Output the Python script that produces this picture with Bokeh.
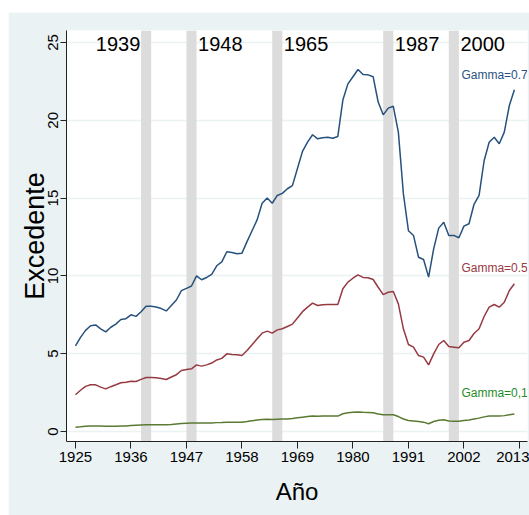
from bokeh.plotting import figure
from bokeh.models import FixedTicker, Label, Range1d, ColumnDataSource
from bokeh.embed import file_html
from bokeh.resources import INLINE

# ---------------- data ----------------
years = list(range(1925, 2013))

gamma_07 = [
    5.5, 6.05, 6.5, 6.8, 6.85, 6.6, 6.4, 6.7, 6.9, 7.2,
    7.25, 7.5, 7.4, 7.7, 8.05, 8.05, 8.0, 7.9, 7.75, 8.1,
    8.45, 9.05, 9.2, 9.35, 10.0, 9.75, 9.9, 10.1, 10.65, 10.9,
    11.55, 11.5, 11.42, 11.46, 12.2, 12.9, 13.6, 14.67, 15.0, 14.67,
    15.17, 15.3, 15.6, 15.8, 16.9, 18.0, 18.6, 19.07, 18.81, 18.88,
    18.91, 18.85, 18.96, 21.3, 22.34, 22.8, 23.26, 22.94, 22.92, 22.8,
    21.17, 20.35, 20.78, 20.9, 19.24, 15.27, 12.9, 12.6, 11.2, 11.05,
    9.92, 11.74, 13.07, 13.45, 12.6, 12.6, 12.45, 13.2, 13.35, 14.6,
    15.17, 17.4, 18.59, 18.91, 18.49, 19.24, 20.95, 21.96,
]
gamma_05 = [
    2.36, 2.65, 2.9, 3.0, 3.0, 2.85, 2.74, 2.88, 3.0, 3.13,
    3.17, 3.23, 3.21, 3.35, 3.47, 3.47, 3.45, 3.4, 3.34, 3.5,
    3.65, 3.92, 3.98, 4.03, 4.28, 4.2, 4.28, 4.4, 4.6, 4.7,
    4.99, 4.95, 4.93, 4.88, 5.2, 5.57, 5.96, 6.32, 6.45, 6.32,
    6.53, 6.6, 6.75, 6.9, 7.3, 7.7, 7.99, 8.25, 8.1, 8.14,
    8.16, 8.16, 8.16, 9.17, 9.6, 9.85, 10.07, 9.9, 9.88, 9.77,
    9.27, 8.8, 8.95, 9.0, 8.2, 6.6, 5.59, 5.42, 4.88, 4.78,
    4.28, 4.99, 5.59, 5.85, 5.46, 5.42, 5.38, 5.74, 5.85, 6.3,
    6.6, 7.39, 7.99, 8.16, 7.99, 8.31, 9.06, 9.49,
]
gamma_01 = [
    0.28, 0.3, 0.33, 0.35, 0.36, 0.35, 0.33, 0.33, 0.33, 0.35,
    0.36, 0.38, 0.4, 0.42, 0.43, 0.43, 0.43, 0.43, 0.43, 0.45,
    0.48, 0.51, 0.53, 0.54, 0.55, 0.54, 0.54, 0.55, 0.57, 0.58,
    0.6, 0.6, 0.6, 0.6, 0.64, 0.69, 0.74, 0.77, 0.79, 0.77,
    0.79, 0.8, 0.81, 0.84, 0.88, 0.92, 0.96, 0.99, 0.98, 0.99,
    0.99, 0.99, 0.99, 1.14, 1.2, 1.24, 1.25, 1.23, 1.22, 1.2,
    1.13, 1.07, 1.08, 1.08, 0.96, 0.8, 0.71, 0.68, 0.64, 0.6,
    0.5, 0.64, 0.72, 0.76, 0.67, 0.66, 0.66, 0.71, 0.74, 0.8,
    0.86, 0.94, 0.99, 1.0, 0.99, 1.02, 1.08, 1.13,
]

event_years = [1939, 1948, 1965, 1987, 2000]
event_labels = ["1939", "1948", "1965", "1987", "2000"]

series_labels = ["Gamma=0.7", "Gamma=0.5", "Gamma=0,1"]

x_ticks = [1925, 1936, 1947, 1958, 1969, 1980, 1991, 2002, 2013]
y_ticks = [0, 5, 10, 15, 20, 25]

# ---------------- styling ----------------
BG = "#eaf2f3"
FONT = "Liberation Sans"
BLUE, RED, GREEN = "#26517d", "#963a42", "#5a7a33"
LABEL_COLORS = ["#2a5282", "#973a42", "#1f8c1f"]

p = figure(
    width=521, height=503,
    output_backend="svg", toolbar_location=None,
    x_range=Range1d(1923.22, 2014.6), y_range=Range1d(-0.643, 25.77),
    min_border_left=58, min_border_right=2, min_border_top=18, min_border_bottom=74,
    margin=(12, 0, 0, 8),
)
p.background_fill_color = "white"
p.border_fill_color = BG
p.outline_line_color = None

# grid
p.xgrid.visible = False
p.ygrid.ticker = FixedTicker(ticks=y_ticks)
p.ygrid.grid_line_color = BG
p.ygrid.grid_line_width = 1.3

# event bands
p.vbar(x=event_years, width=2, bottom=p.y_range.start, top=p.y_range.end,
       fill_color="#dcdcdc", line_color=None)

src = ColumnDataSource(dict(year=years, g7=gamma_07, g5=gamma_05, g1=gamma_01))
p.line("year", "g7", source=src, line_color=BLUE, line_width=1.5)
p.line("year", "g5", source=src, line_color=RED, line_width=1.5)
p.line("year", "g1", source=src, line_color=GREEN, line_width=1.5)

# event year labels
for i, (yr, txt) in enumerate(zip(event_years, event_labels)):
    if i == 0:
        lx, align = yr - 1.15, "right"
    else:
        lx, align = yr + 1.3, "left"
    p.add_layout(Label(x=lx, y=24.9, text=txt, text_align=align, text_baseline="middle",
                       text_font=FONT, text_font_size="20px", text_color="black"))

# series labels
label_y = [22.9, 10.5, 2.5]
for txt, ly, col in zip(series_labels, label_y, LABEL_COLORS):
    p.add_layout(Label(x=2001.5, y=ly, text=txt, text_align="left", text_baseline="middle",
                       text_font=FONT, text_font_size="12px", text_color=col))

# axes
for ax in (p.xaxis[0], p.yaxis[0]):
    ax.axis_line_color = "#222222"
    ax.axis_line_width = 1
    ax.major_tick_line_color = "#222222"
    ax.major_tick_in = 0
    ax.minor_tick_line_color = None
    ax.major_label_text_font = FONT
    ax.major_label_text_font_size = "15px"
    ax.major_label_text_color = "black"
    ax.axis_label_text_font = FONT
    ax.axis_label_text_font_style = "normal"
    ax.axis_label_text_color = "black"

p.xaxis.ticker = FixedTicker(ticks=x_ticks)
p.xaxis.major_tick_out = 7
p.xaxis.major_label_standoff = 3
p.xaxis.axis_label = "Año"
p.xaxis.axis_label_text_font_size = "24px"
p.xaxis.axis_label_standoff = 13

p.yaxis.ticker = FixedTicker(ticks=y_ticks)
p.yaxis.major_tick_out = 6
p.yaxis.major_label_orientation = "vertical"
p.yaxis.major_label_standoff = 2
p.yaxis.axis_label = "Excedente"
p.yaxis.axis_label_text_font_size = "27px"
p.yaxis.axis_label_standoff = -4

open("out.html", "w").write(file_html(p, INLINE))
